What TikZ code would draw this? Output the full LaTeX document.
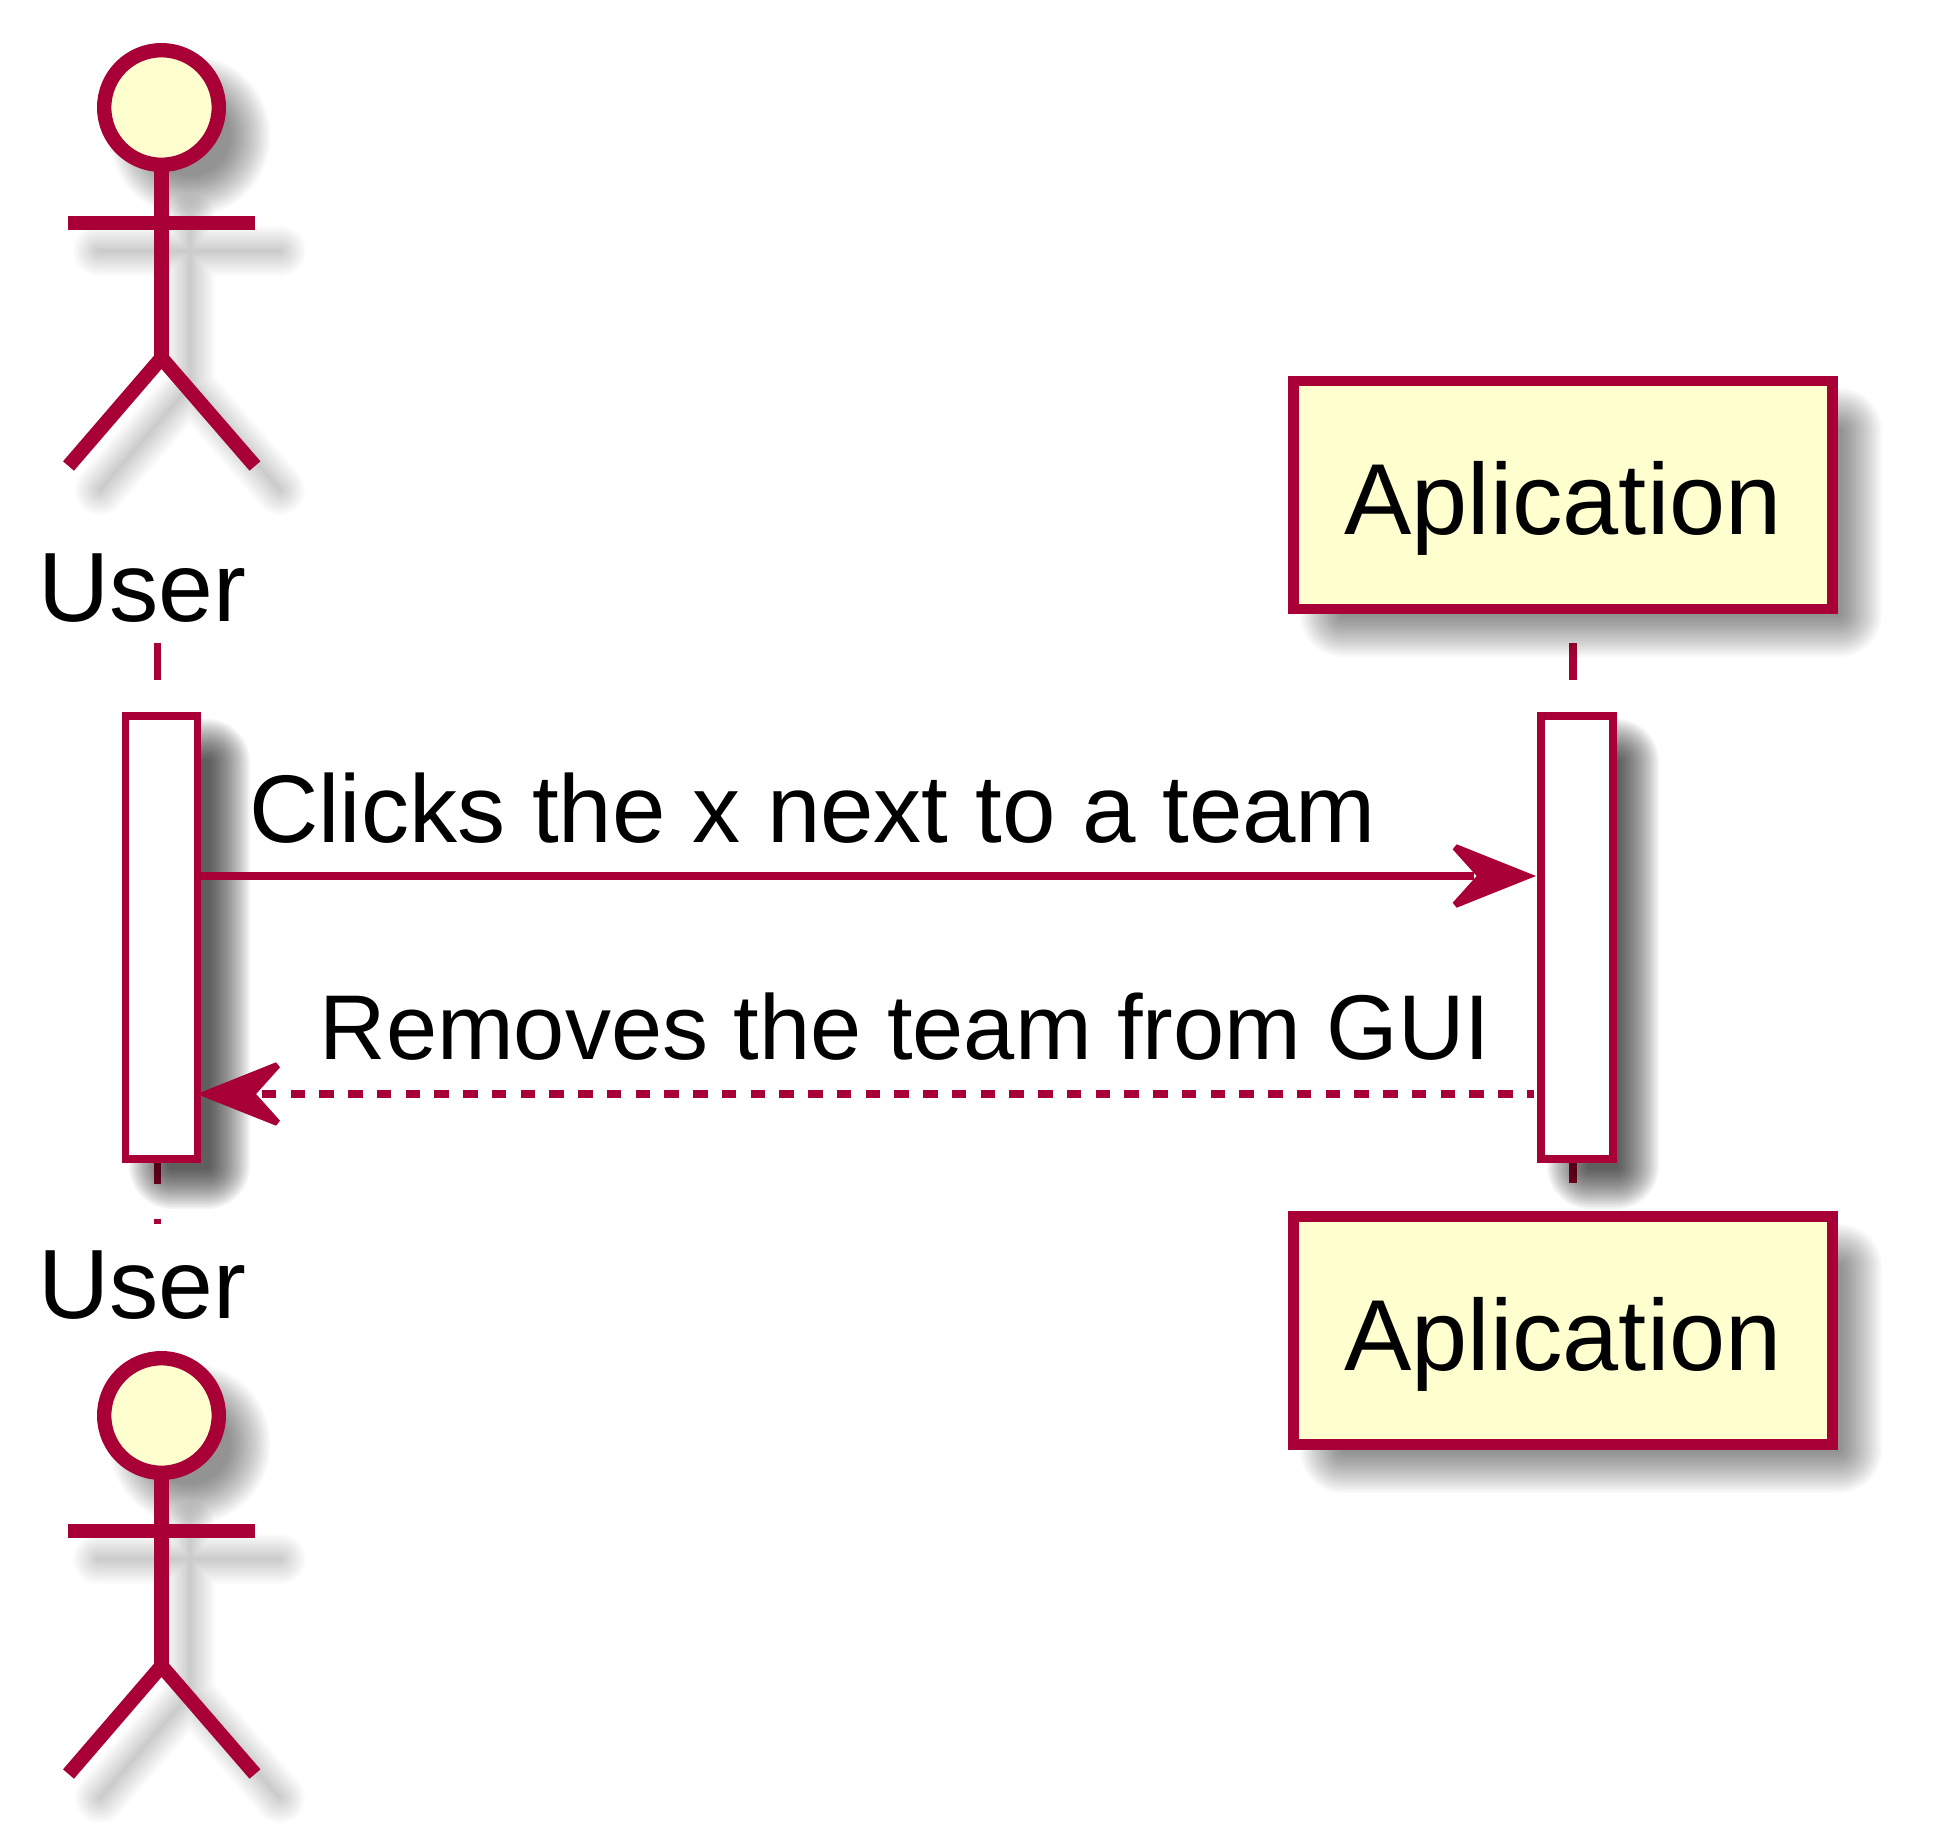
\documentclass[tikz,border=0pt]{standalone}
\usepackage{fontspec}
\setmainfont{Liberation Sans}
\usetikzlibrary{arrows.meta}
\definecolor{umlline}{HTML}{A80036}
\definecolor{umlfill}{HTML}{FEFECE}
\pgfdeclarearrow{
  name=UmlHead,
  setup code={%
    \pgfarrowssettipend{0pt}%
    \pgfarrowssetlineend{-62pt}%
    \pgfarrowssetvisualtipend{0pt}%
    \pgfarrowssetbackend{-83.3pt}%
    \pgfarrowssetvisualbackend{-62pt}%
    \pgfarrowshullpoint{0pt}{0pt}%
    \pgfarrowshullpoint{-83.3pt}{32pt}%
    \pgfarrowshullpoint{-83.3pt}{-32pt}},
  drawing code={%
    \pgfsetdash{}{0pt}%
    \pgfpathmoveto{\pgfqpoint{0pt}{0pt}}%
    \pgfpathlineto{\pgfqpoint{-79.3pt}{31.7pt}}%
    \pgfpathlineto{\pgfqpoint{-83.3pt}{26.7pt}}%
    \pgfpathlineto{\pgfqpoint{-59.3pt}{0pt}}%
    \pgfpathlineto{\pgfqpoint{-83.3pt}{-26.7pt}}%
    \pgfpathlineto{\pgfqpoint{-79.3pt}{-31.7pt}}%
    \pgfpathclose
    \pgfusepathqfill}
}
\tikzset{
  lifeline/.style={draw=umlline,line width=7.2pt,dash pattern=on 36.5pt off 35.5pt},
  boxnode/.style={draw=umlline,fill=umlfill,line width=10.7pt,minimum width=539pt,minimum height=228pt,inner sep=0pt,outer sep=0pt},
  barnode/.style={draw=umlline,fill=white,line width=7.3pt,minimum height=443pt,minimum width=72.2pt,inner sep=0pt,outer sep=3.65pt},
  headnode/.style={circle,draw=umlline,fill=umlfill,line width=14.4pt,minimum size=114.6pt,inner sep=0pt,outer sep=0pt},
  limb/.style={draw=umlline,line width=14.4pt},
  partlabel/.style={anchor=base west,inner sep=0pt,font=\fontsize{98.5pt}{120pt}\selectfont},
  applabel/.style={anchor=base west,inner sep=0pt,font=\fontsize{100.9pt}{120pt}\selectfont},
  msglabel/.style={anchor=base west,inner sep=0pt,font=\fontsize{96.1pt}{115pt}\selectfont},
  msglabelb/.style={anchor=base west,inner sep=0pt,font=\fontsize{92pt}{115pt}\selectfont},
  msgline/.style={draw=umlline,line width=7.2pt,-{UmlHead}}
}
% soft shadows: stacks of faint shapes
\newcommand\softrect[5]{%
  \foreach \d in {-24,-22,...,16}{%
    \pgfmathsetmacro\rr{\d+27}%
    \fill[black,fill opacity=#5,rounded corners=\rr pt]
      (#1-\d,#2-\d) rectangle (#3+\d,#4+\d);}}
\newcommand\softactor{%
  \foreach \d in {-24,-22,...,16}{\fill[black,fill opacity=0.022] (190,136) circle ({64.5+\d});}
  \foreach \w in {2,6,...,50}{%
    \draw[black,draw opacity=0.017,line width=\w pt,line cap=round,line join=round]
      (190,218) -- (190,386) (98,251) -- (281,251)
      (100,490) -- (190,386) -- (280,490);}}
\newcommand\stickman[1]{%
  \node[headnode] (#1head) at (161.5,107.5) {};
  \coordinate (#1arml) at (68,222.7);
  \coordinate (#1armr) at (255,222.7);
  \coordinate (#1hip) at (161.5,358);
  \coordinate (#1legl) at (68.5,466);
  \coordinate (#1legr) at (255,466);
  \draw[limb] (#1head.south) -- (#1hip);
  \draw[limb] (#1arml) -- (#1armr);
  \draw[limb] (#1legl) -- (#1hip) -- (#1legr);}
\begin{document}
\begin{tikzpicture}[x=1pt,y=-1pt]
\useasboundingbox (0,0) rectangle (1933,1832);
\fill[white] (0,0) rectangle (1933,1832);
% lifelines
\coordinate (ultop) at (157.8,643);
\coordinate (ulend) at (157.8,1224);
\coordinate (altop) at (1573,643);
\coordinate (alend) at (1573,1183);
\draw[lifeline] (ultop) -- (ulend);
\draw[lifeline] (altop) -- (alend);
% shadows
\softactor
\begin{scope}[yshift=-1308pt]\softactor\end{scope}
\softrect{1316}{404}{1866}{641}{0.022}
\softrect{1316}{1240}{1866}{1477}{0.022}
\softrect{145}{735}{234}{1193}{0.043}
\softrect{1563}{735}{1643}{1193}{0.043}
% actors
\stickman{ta}
\begin{scope}[yshift=-1308pt]\stickman{ba}\end{scope}
\node[partlabel] (utop) at (38.2,621) {User};
\node[partlabel] (ubot) at (38.2,1318) {User};
% participants
\node[boxnode] (atop) at (1563,495) {};
\node[boxnode] (abot) at (1563,1330.5) {};
\node[applabel] (atoptxt) at (1344,534) {Aplication};
\node[applabel] (abottxt) at (1344,1370) {Aplication};
% activation bars
\node[barnode] (ubar) at (161.5,937.5) {};
\node[barnode] (abar) at (1577,937.5) {};
% messages
\coordinate (m1) at (0,876);
\coordinate (m2) at (0,1094);
\draw[msgline,shorten >=1.3pt] (ubar.east |- m1) -- (abar.west |- m1);
\draw[msgline,dash pattern=on 14.4pt off 14.35pt,dash phase=7.1pt,shorten <=3pt,shorten >=-4.5pt] (abar.west |- m2) -- (ubar.east |- m2);
\node[msglabel] (m1txt) at (249,842) {Clicks the x next to a team};
\node[msglabelb] (m2txt) at (319.5,1059) {Removes the team from GUI};
\end{tikzpicture}
\end{document}
